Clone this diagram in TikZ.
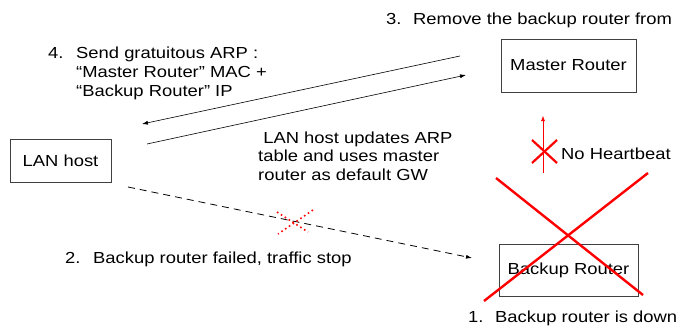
\documentclass[tikz,border=0pt]{standalone}
\usepackage{fontspec}
\setmainfont[FakeStretch=1.15]{Liberation Sans}
\usetikzlibrary{arrows.meta}
\begin{document}
\begin{tikzpicture}[x=1pt,y=-1pt,
  font=\fontsize{16}{18.5}\selectfont,
  box/.style={draw=black!75, line width=0.7pt, inner sep=0pt},
  txt/.style={anchor=base west, inner sep=0pt, align=left},
  arr/.style={-{Latex[length=6pt,width=4pt]}, line width=0.6pt},
  bigx/.style={draw=red, line width=2.4pt},
  redx/.style={draw=red, line width=2.2pt}]
\useasboundingbox (0,0) rectangle (679,326);
% boxes
\node[box, minimum width=101pt, minimum height=43pt] (lan) at (60.5,160.5) {LAN host};
\node[box, minimum width=135pt, minimum height=53pt] (master) at (568.5,65.5) {Master Router};
\node[box, minimum width=139pt, minimum height=52pt] (backup) at (568.5,270) {Backup Router};
% texts (multi-line nodes are anchored at the baseline of their last line)
\node[txt] (n3) at (386,25) {3.};
\node[txt] (t3) at (413,25) {Remove the backup router from};
\node[txt] (n4) at (48,59) {4.};
\node[txt] (t4) at (76,96) {Send gratuitous ARP :\\“Master Router” MAC +\\“Backup Router” IP};
\node[txt] (upd) at (258,180) {\ LAN host updates ARP\\table and uses master\\router as default GW};
\node[txt] (nohb) at (561,159) {No Heartbeat};
\node[txt] (n2) at (65,263) {2.};
\node[txt] (t2) at (93,263) {Backup router failed, traffic stop};
\node[txt] (n1) at (468,322) {1.};
\node[txt] (t1) at (495,322) {Backup router is down};
% arrows
\coordinate (a1s) at (460,56);
\coordinate (a1e) at (142,124);
\coordinate (a2s) at (147,144);
\coordinate (a2e) at (466,75);
\coordinate (ds) at (128,187);
\coordinate (de) at (472,258);
\draw[arr] (a1s) -- (a1e);
\draw[arr] (a2s) -- (a2e);
\draw[arr, line width=0.8pt, dash pattern=on 7pt off 5pt] (ds) -- (de);
% heartbeat arrow
\coordinate (hbs) at (543,173);
\coordinate (hbe) at (543,116);
\draw[-{Latex[length=5pt,width=4pt]}, red, line width=0.5pt] (hbs) -- (hbe);
% small red x
\draw[redx] (532,140) -- (557,163);
\draw[redx] (557,140) -- (532,163);
% dotted x
\draw[red, line width=1.6pt, dash pattern=on 1.6pt off 3pt] (277,212) -- (308,232);
\draw[red, line width=1.6pt, dash pattern=on 1.6pt off 3pt] (313,210) -- (278,234);
% big x
\draw[bigx] (496,178) -- (643,295);
\draw[bigx] (648,173) -- (484,301);
\end{tikzpicture}
\end{document}
